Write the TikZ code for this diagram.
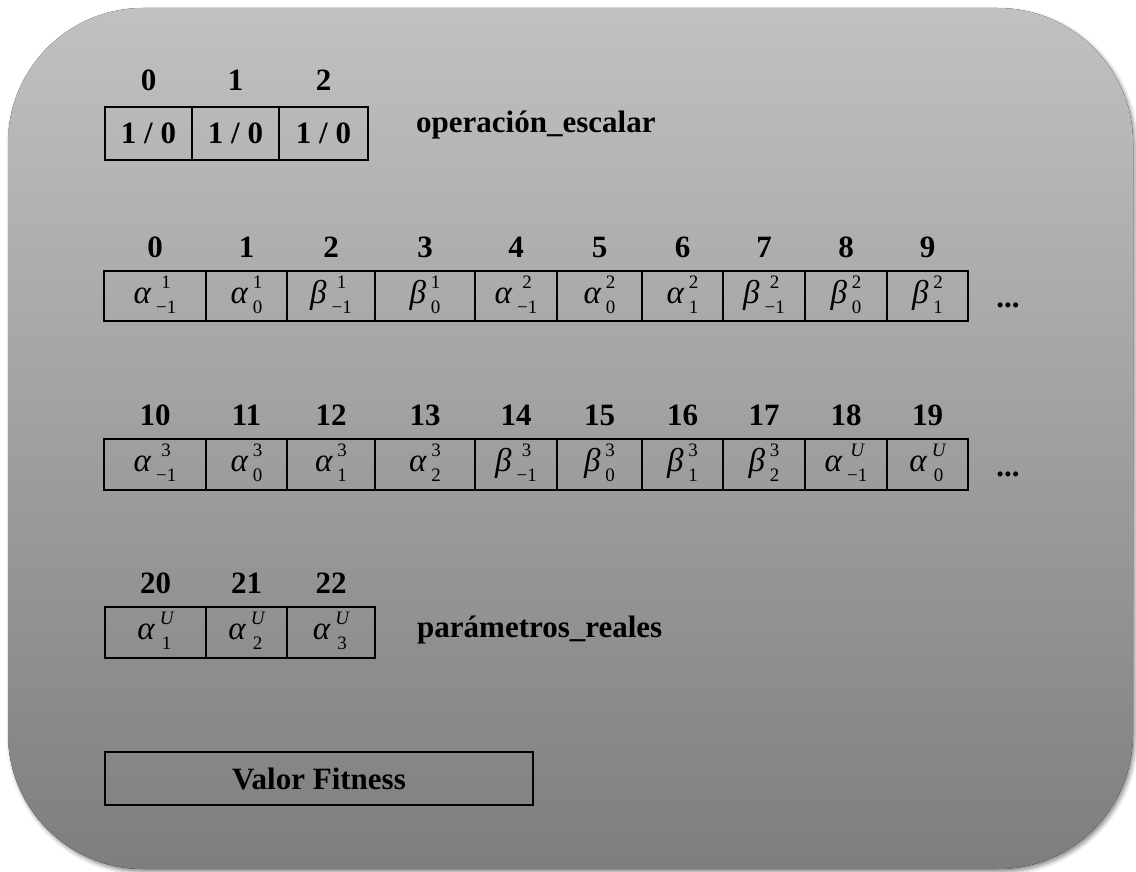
\documentclass[tikz,border=0pt]{standalone}
\usepackage{fontspec}
\setmainfont{Liberation Serif}
\usetikzlibrary{shadows.blur}
\definecolor{topc}{RGB}{193,193,193}
\definecolor{botc}{RGB}{126,126,126}
\newcommand\supsub[2]{\begingroup\fontsize{19}{19}\selectfont
  \setbox0\hbox{#1}\setbox2\hbox{#2}%
  \dimen0=\ifdim\wd0>\wd2 \wd0\else\wd2\fi
  \rlap{\raisebox{15pt}{\hbox to\dimen0{\hss\box0\hss}}}%
  \raisebox{-10pt}{\hbox to\dimen0{\hss\box2\hss}}\endgroup}
\newcommand\gsym[3]{{\fontsize{33}{33}\selectfont\itshape #1}\kern5pt\supsub{#2}{#3}}
\newcommand\Ui{{\itshape U}}
\tikzset{
  cell/.style={draw=black, line width=1.8pt, inner sep=0pt, minimum height=#1},
  cell/.default=50pt,
  idx/.style={font=\fontsize{31}{31}\selectfont\bfseries, inner sep=0pt, anchor=base},
  ttl/.style={font=\fontsize{31}{31}\selectfont\bfseries, inner sep=0pt, anchor=base west},
  gk/.style={inner sep=0pt, anchor=base},
}
\begin{document}
\begin{tikzpicture}[x=1pt,y=-1pt]
\useasboundingbox (0,0) rectangle (1136,872);
\fill[top color=topc, bottom color=botc, rounded corners=135pt,
  blur shadow={shadow xshift=2pt, shadow yshift=-3pt, shadow blur radius=4pt, shadow opacity=45}]
  (8,8) rectangle (1133,869);

% row 1
\foreach \i/\cx/\w in {0/148.5/87, 1/235.5/87, 2/323.5/89}{
  \node[cell=53pt, minimum width=\w pt] (a\i) at (\cx,133.5) {};
  \node[idx] (at\i) at (\cx,144) {1 / 0};
  \node[idx] (la\i) at (\cx,91) {\i};
}
\node[ttl] (opesc) at (416,133) {operación\_escalar};

% row 2
\foreach \i/\cx/\w/\t in {
  0/155/102/{\gsym{α}{1}{−1}},
  1/246.5/81/{\gsym{α}{1}{0}},
  2/331/88/{\gsym{β}{1}{−1}},
  3/425/100/{\gsym{β}{1}{0}},
  4/516/82/{\gsym{α}{2}{−1}},
  5/599.5/85/{\gsym{α}{2}{0}},
  6/682.5/81/{\gsym{α}{2}{1}},
  7/764/82/{\gsym{β}{2}{−1}},
  8/846/82/{\gsym{β}{2}{0}},
  9/927.5/81/{\gsym{β}{2}{1}}}{
  \node[cell=50pt, minimum width=\w pt] (b\i) at (\cx,296) {};
  \node[gk] (bt\i) at (\cx,303) {\t};
  \node[idx] (lb\i) at (\cx,257) {\i};
}
\node[idx] (dots1) at (1008,307) {...};

% row 3
\foreach \i/\cx/\w/\t in {
  10/155/102/{\gsym{α}{3}{−1}},
  11/246.5/81/{\gsym{α}{3}{0}},
  12/331/88/{\gsym{α}{3}{1}},
  13/425/100/{\gsym{α}{3}{2}},
  14/516/82/{\gsym{β}{3}{−1}},
  15/599.5/85/{\gsym{β}{3}{0}},
  16/682.5/81/{\gsym{β}{3}{1}},
  17/764/82/{\gsym{β}{3}{2}},
  18/846/82/{\gsym{α}{\Ui}{−1}},
  19/927.5/81/{\gsym{α}{\Ui}{0}}}{
  \node[cell=51pt, minimum width=\w pt] (c\i) at (\cx,464.5) {};
  \node[gk] (ct\i) at (\cx,471) {\t};
  \node[idx] (lc\i) at (\cx,425) {\i};
}
\node[idx] (dots2) at (1008,476) {...};

% row 4
\foreach \i/\cx/\w/\t in {
  20/155.5/101/{\gsym{α}{\Ui}{1}},
  21/246.5/81/{\gsym{α}{\Ui}{2}},
  22/331/88/{\gsym{α}{\Ui}{3}}}{
  \node[cell=51pt, minimum width=\w pt] (d\i) at (\cx,632.5) {};
  \node[gk] (dt\i) at (\cx,639) {\t};
  \node[idx] (ld\i) at (\cx,593) {\i};
}
\node[ttl] (preal) at (417,637) {parámetros\_reales};

% fitness
\node[cell=53pt, minimum width=428pt] (fit) at (319,778.5) {};
\node[idx] (fitt) at (319,789) {Valor Fitness};
\end{tikzpicture}
\end{document}
